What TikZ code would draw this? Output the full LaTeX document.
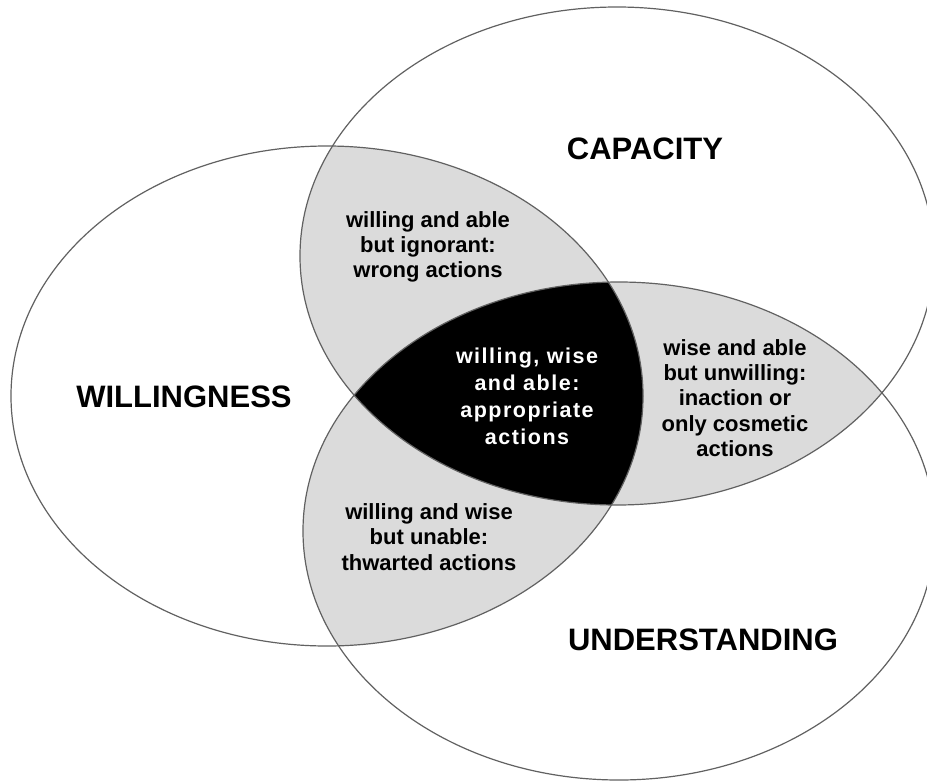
\documentclass[tikz,border=0pt]{standalone}
\usepackage{fontspec}
\setmainfont{Liberation Sans}
\newfontfamily\spacedfont[LetterSpace=7]{Liberation Sans}
\begin{document}
\begin{tikzpicture}[x=1pt,y=-1pt,
  outline/.style={draw=black!62,line width=1.2pt},
  region/.style={fill=black!14},
  core/.style={fill=black},
  title/.style={font=\fontsize{31}{36}\selectfont\bfseries,inner sep=0pt},
  smalltext/.style={font=\fontsize{22}{25.3}\selectfont\bfseries,align=center,inner sep=0pt},
  coretext/.style={font=\spacedfont\fontsize{21.5}{27}\selectfont\bfseries,align=center,inner sep=0pt,text=white}]
\useasboundingbox (0,0) rectangle (927,782);
\clip (0,0) rectangle (927,782);
\fill[white] (0,0) rectangle (927,782);
\def\ellW{(327,396) ellipse [x radius=316, y radius=250]}
\def\ellC{(617,256) ellipse [x radius=317, y radius=249]}
\def\ellU{(619,531) ellipse [x radius=316, y radius=249]}
% pairwise overlaps
\begin{scope}\clip \ellW; \fill[region] \ellC; \end{scope}
\begin{scope}\clip \ellW; \fill[region] \ellU; \end{scope}
\begin{scope}\clip \ellC; \fill[region] \ellU; \end{scope}
% triple overlap
\begin{scope}\clip \ellW; \clip \ellC; \fill[core] \ellU; \end{scope}
% outlines
\draw[outline] \ellW;
\draw[outline] \ellC;
\draw[outline] \ellU;
% labels
\node[title] (will) at (184,397) {WILLINGNESS};
\node[title] (cap) at (645,149) {CAPACITY};
\node[title] (und) at (703,640) {UNDERSTANDING};
\node[smalltext] (wa) at (428,247) {willing and able\\but ignorant:\\wrong actions};
\node[smalltext] (ww) at (429,537) {willing and wise\\but unable:\\thwarted actions};
\node[smalltext] (wab) at (735,398) {wise and able\\but unwilling:\\inaction or\\only cosmetic\\actions};
\node[coretext] (all) at (527,396) {willing, wise\\and able:\\appropriate\\actions};
\end{tikzpicture}
\end{document}
